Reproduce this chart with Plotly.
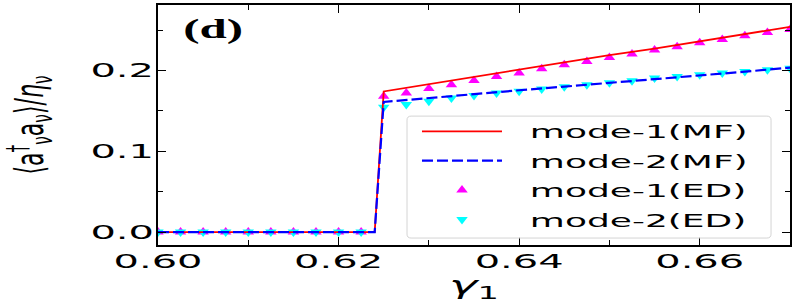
import plotly.graph_objects as go

# ---- data ----
ed_x = [0.6000, 0.6025, 0.6050, 0.6075, 0.6100, 0.6125, 0.6150, 0.6175, 0.6200, 0.6225,
        0.6250, 0.6275, 0.6300, 0.6325, 0.6350, 0.6375, 0.6400, 0.6425, 0.6450, 0.6475,
        0.6500, 0.6525, 0.6550, 0.6575, 0.6600, 0.6625, 0.6650, 0.6675, 0.6700]
ed_mode1 = [0, 0, 0, 0, 0, 0, 0, 0, 0, 0,
            0.168, 0.172, 0.1776, 0.1824, 0.1877, 0.1926, 0.1967, 0.202, 0.207, 0.211,
            0.216, 0.2205, 0.2254, 0.2294, 0.2343, 0.2384, 0.243, 0.247, 0.2507]
ed_mode2 = [0, 0, 0, 0, 0, 0, 0, 0, 0, 0,
            0.1546, 0.158, 0.162, 0.166, 0.169, 0.172, 0.1742, 0.177, 0.1797, 0.1824,
            0.1849, 0.1873, 0.1906, 0.1926, 0.1947, 0.1967, 0.1988, 0.2008, 0.2028]

mf_x = [0.600, 0.605, 0.610, 0.615, 0.620, 0.624, 0.625, 0.630, 0.635, 0.640,
        0.645, 0.650, 0.655, 0.660, 0.665, 0.670]
mf_mode1 = [0, 0, 0, 0, 0, 0, 0.174, 0.183, 0.192, 0.201,
            0.210, 0.219, 0.227, 0.236, 0.245, 0.254]
mf_mode2 = [0, 0, 0, 0, 0, 0, 0.161, 0.166, 0.1705, 0.1755,
            0.180, 0.1845, 0.189, 0.1935, 0.1985, 0.2035]

x_ticks = [0.60, 0.62, 0.64, 0.66]
x_tick_labels = ["0.60", "0.62", "0.64", "0.66"]
y_ticks = [0.0, 0.1, 0.2]
y_tick_labels = ["0.0", "0.1", "0.2"]

names = ["mode-1(MF)", "mode-2(MF)", "mode-1(ED)", "mode-2(ED)"]
pad = "\u00a0\u00a0"

fig = go.Figure()
fig.add_trace(go.Scatter(x=ed_x, y=ed_mode1, mode="markers", name=pad + names[2], legendrank=3,
                         legendgroup="c",
                         marker=dict(symbol="triangle-up", size=10, color="#ff00ff")))
fig.add_trace(go.Scatter(x=ed_x, y=ed_mode2, mode="markers", name=pad + names[3], legendrank=4,
                         legendgroup="d",
                         marker=dict(symbol="triangle-down", size=10, color="#00ffff")))
fig.add_trace(go.Scatter(x=mf_x, y=mf_mode1, mode="lines", name=pad + names[0], legendrank=1,
                         legendgroup="a",
                         line=dict(color="#ff0000", width=1.8)))
fig.add_trace(go.Scatter(x=mf_x, y=mf_mode2, mode="lines", name=pad + names[1], legendrank=2,
                         legendgroup="b",
                         line=dict(color="#0000ff", width=2.2, dash="11px,4px")))

tick_font = dict(family="DejaVu Sans", size=20, color="black")
axis_common = dict(showline=True, linecolor="black", linewidth=2, mirror="allticks",
                   ticks="inside", ticklen=8, tickwidth=1.2, tickcolor="black",
                   showgrid=False, zeroline=False, tickfont=tick_font)

fig.update_xaxes(range=[0.60, 0.67], tickvals=x_ticks, ticktext=x_tick_labels,
                 ticklabelstandoff=-3,
                 minor=dict(dtick=0.01, tick0=0.6, ticks="inside", ticklen=5, tickcolor="black", showgrid=False),
                 title=dict(text="<i>γ</i><sub>1</sub>", font=dict(family="DejaVu Sans", size=24, color="black"), standoff=5),
                 **axis_common)
fig.update_yaxes(range=[-0.016, 0.281], tickvals=y_ticks, ticktext=y_tick_labels,
                 ticklabelstandoff=-2,
                 minor=dict(dtick=0.05, tick0=0, ticks="inside", ticklen=5, tickcolor="black", showgrid=False),
                 title=dict(text="⟨a<sup>†</sup><sub>ν</sub>a<sub>ν</sub>⟩/<i>η</i><sub>ν</sub>",
                            font=dict(family="DejaVu Sans", size=22, color="black"), standoff=78),
                 **axis_common)

fig.add_annotation(text="<b>(d)</b>", xref="paper", yref="paper", x=0.0878, y=0.902,
                   xanchor="center", yanchor="middle", showarrow=False,
                   font=dict(family="Liberation Serif", size=28, color="black"))

# legend frame (rounded box) in paper coordinates
bx0, bx1, by0, by1 = 0.394, 0.970, 0.029, 0.537
rx, ry = 0.0065, 0.0165
box_path = (f"M{bx0+rx},{by1} L{bx1-rx},{by1} Q{bx1},{by1} {bx1},{by1-ry} "
            f"L{bx1},{by0+ry} Q{bx1},{by0} {bx1-rx},{by0} L{bx0+rx},{by0} "
            f"Q{bx0},{by0} {bx0},{by0+ry} L{bx0},{by1-ry} Q{bx0},{by1} {bx0+rx},{by1} Z")
fig.add_shape(type="path", path=box_path, xref="paper", yref="paper",
              fillcolor="rgba(255,255,255,0.8)", line=dict(color="#d4d4d4", width=1), layer="above")

fig.update_layout(
    width=797, height=305,
    margin=dict(l=158, r=7, t=3, b=60),
    plot_bgcolor="white", paper_bgcolor="white",
    legend=dict(x=0.4098, y=0.5496, xanchor="left", yanchor="top",
                bgcolor="rgba(0,0,0,0)", borderwidth=0,
                font=dict(family="DejaVu Sans", size=18, color="black"),
                itemwidth=80, tracegroupgap=3),
    showlegend=True,
)

post_js = r"""
var gd = document.getElementById('{plot_id}');
document.documentElement.style.margin = '0';
document.body.style.margin = '0';
document.body.style.padding = '0';
document.body.style.overflow = 'hidden';
function stretchAll() {
  gd.querySelectorAll('.legend [clip-path]').forEach(function (el) {
    el.removeAttribute('clip-path');
  });
  var texts = gd.querySelectorAll('svg text');
  texts.forEach(function (t) {
    var cur = t.getAttribute('transform') || '';
    if (t.__st && t.__st === cur) return;
    var S = 2.0;
    if (t.closest('.annotation')) S = 1.75;
    var x = parseFloat(t.getAttribute('x')) || 0;
    var y = parseFloat(t.getAttribute('y')) || 0;
    var tl = t.transform.baseVal;
    var m = (tl.numberOfItems > 0) ? tl.consolidate().matrix : {a: 1, b: 0, c: 0, d: 1, e: 0, f: 0};
    var px;
    if (Math.abs(m.b) > 0.01) {
      S = 1.8;
      var bb = t.getBBox();
      var cx = bb.x + bb.width / 2, cy = bb.y + bb.height / 2;
      px = m.a * cx + m.c * cy + m.e;
    } else {
      px = m.a * x + m.c * y + m.e;
    }
    var nt = 'translate(' + px + ',0) scale(' + S + ',1) translate(' + (-px) + ',0)' + (cur ? ' ' + cur : '');
    t.setAttribute('transform', nt);
    t.__st = nt;
  });
}
stretchAll();
gd.on('plotly_afterplot', stretchAll);
"""

fig.write_html("out.html", post_script=post_js, config={"displayModeBar": False})
